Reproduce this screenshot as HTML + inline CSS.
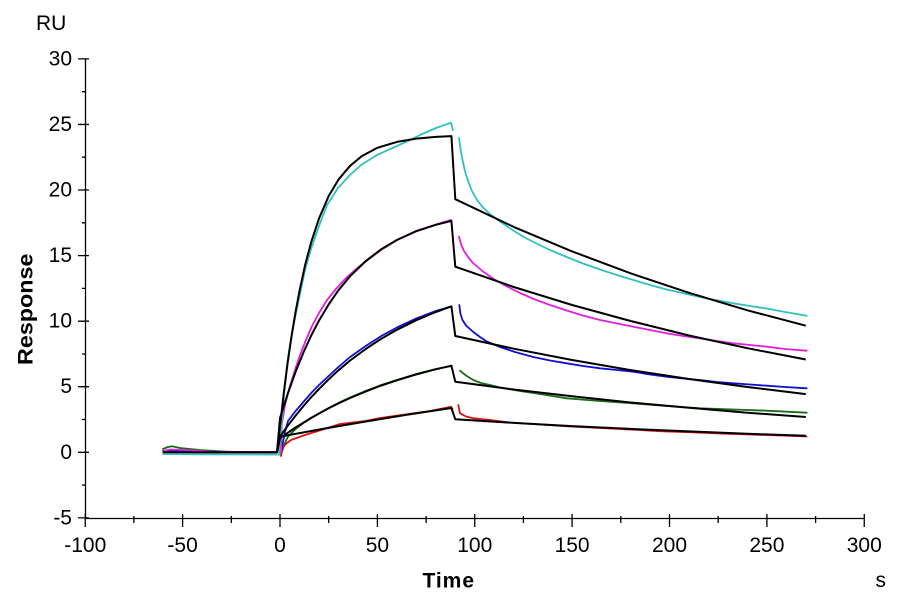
<!DOCTYPE html>
<html><head><meta charset="utf-8"><style>
html,body{margin:0;padding:0;background:#fff;}
svg{display:block;}
text{font-family:"Liberation Sans",Arial,sans-serif;fill:#000;}
</style></head><body>
<svg width="900" height="600" viewBox="0 0 900 600" xmlns="http://www.w3.org/2000/svg">
<rect width="900" height="600" fill="#fff"/>
<!-- axes -->
<g stroke="#000" stroke-width="1.3" fill="none">
<line x1="85.5" y1="58.9" x2="85.5" y2="518.5"/>
<line x1="85" y1="518.5" x2="864.5" y2="518.5"/>
<path d="M78 58.9H89M78 124.45H89M78 190H89M78 255.6H89M78 321.2H89M78 386.7H89M78 452.3H89M78 517.9H89"/>
<path d="M82 91.7H85.5M82 157.2H85.5M82 222.8H85.5M82 288.4H85.5M82 354H85.5M82 419.5H85.5M82 485.1H85.5"/>
<path d="M85.25 514V527M182.6 514V527M280 514V527M377.4 514V527M474.75 514V527M572.1 514V527M669.5 514V527M766.9 514V527M864.25 514V527"/>
<path d="M133.9 516V523M231.3 516V523M328.7 516V523M426.1 516V523M523.4 516V523M620.8 516V523M718.2 516V523M815.6 516V523"/>
</g>
<g font-size="21" text-anchor="end">
<text x="72" y="65.5">30</text>
<text x="72" y="131">25</text>
<text x="72" y="196.5">20</text>
<text x="72" y="262">15</text>
<text x="72" y="327.7">10</text>
<text x="72" y="393.2">5</text>
<text x="72" y="458.8">0</text>
<text x="72" y="524.4">-5</text>
</g>
<g font-size="21" text-anchor="middle">
<text x="85.25" y="552">-100</text>
<text x="182.6" y="552">-50</text>
<text x="280" y="552">0</text>
<text x="377.4" y="552">50</text>
<text x="474.75" y="552">100</text>
<text x="572.1" y="552">150</text>
<text x="669.5" y="552">200</text>
<text x="766.9" y="552">250</text>
<text x="864.25" y="552">300</text>
</g>
<text x="36" y="30" font-size="21">RU</text>
<text x="875.5" y="587" font-size="21">s</text>
<text x="422.5" y="587.3" font-size="21" font-weight="bold" textLength="51.5" lengthAdjust="spacing">Time</text>
<text transform="translate(32.5,365) rotate(-90)" font-size="21" font-weight="bold" textLength="111.5" lengthAdjust="spacingAndGlyphs">Response</text>

<g fill="none" stroke-width="1.8" stroke-linejoin="round" stroke-linecap="round">
<path stroke="#1a6b1a" d="M163 449 L168 447 L172 446.3 L180 448 L190 449 L200 450 L215 451 L230 452 L277 452.3 M281 454 L284 445 L287.8 437 L295.6 429 L303.4 423 L311.2 418 L319 413.5 L328.7 408 L338.4 403 L350.1 397.5 L365.7 391 L381.3 385 L396.9 380 L416.3 374 L435.8 369 L451.4 366 M460 370.7 L466 375.5 L473.3 380 L481 383 L490 385 L500 387.5 L520 391 L540 394 L566.7 398.3 L600 401 L633.3 403.3 L666.7 406 L700 408.3 L733.3 409.5 L766.7 410.7 L806.7 412.7"/>
<path stroke="#dd1111" d="M163 452 L200 452.3 L277 452.6 M281 456 L282 451 L284 446 L287 443 L291 440 L298 437.5 L305 435 L322.8 429.5 L340 424 L365.7 421 L380 418 L408.5 414 L430 411 L445 408 L451 406.7 L452.5 409 M458.3 405 L460 413.3 L466 416.5 L473.3 418.3 L490 420 L510 422.5 L540 424.5 L570 426.5 L600 428 L630 429.5 L660 431.2 L690 432.2 L720 433.5 L750 434.5 L780 435.5 L806.7 436.5"/>
<path stroke="#1010cc" d="M163 451 L200 451.5 L277 452.2 M281 452 L283 442 L285 432 L288 421 L295.6 411 L303.4 402 L311.2 393 L319 385 L328.7 376 L338.4 367 L350.1 357 L365.7 346 L381.3 336 L396.9 327.5 L416.3 318.5 L435.8 311 L451.4 306.5 M459.3 305 L460.5 314 L462.5 320 L466 325.5 L473.3 332 L480 337 L486.7 341.5 L500 347 L515 352 L533.3 357 L550 360.5 L566.7 363.3 L583 366 L600 368.3 L617 370 L633.3 371.7 L650 374.5 L666.7 376.7 L683 378.5 L700 380 L717 382 L733.3 383.3 L750 384.5 L766.7 385.7 L785 387 L806.7 388.3"/>
<path stroke="#e020e0" d="M163 451 L170 449.5 L185 450 L200 451 L215 452 L277 452 M281 452 L281.7 425 L285 405 L290 386 L295 370 L300 355 L306 340 L312 326 L319 313 L327 300 L336 289 L345 279 L355 270 L365 262 L381 250 L397 240 L416 231 L436 224.5 L451 220 M459 236.7 L461 244 L464 251 L468 257 L473 263 L483 271.5 L493 278.5 L505 285.5 L520 293 L535 299.5 L550 305 L566.7 310.5 L583 315.5 L600 320 L617 323.5 L633.3 326.7 L650 330 L666.7 333.3 L683 336 L700 338.3 L717 341 L733.3 343.3 L750 345 L766.7 346.7 L785 349 L806.7 350.7"/>
<path stroke="#30c0c0" d="M163 454 L200 454.3 L277 454.6 M279 455 L281 430 L284 395 L287 365 L291 338 L296 313 L300 294 L305 270 L311 249 L319 226 L327 205 L338 188 L350 175 L361 165 L377 155 L397 146 L410 140 L420 135 L436 128 L451 122.7 L453 130 M459 138 L460.5 149 L462.5 160 L465 171 L468 181 L472 191 L477 200 L483 207.5 L490 214 L500 221.5 L511 229 L522 236 L533.3 242 L550 250 L566.7 257 L583 263.5 L600 269.5 L617 275 L633.3 280 L650 285 L666.7 289.5 L680 292.5 L693.3 295.5 L710 299 L733.3 303.3 L750 306 L766.7 308.5 L785 312 L806.7 315.7"/>
</g>

<g fill="none" stroke="#000" stroke-width="2" stroke-linejoin="round">
<path d="M163 452.3 L277 452.3 L280 426.1 L283.9 392 L287.8 361.8 L291.7 335.2 L295.6 311.7 L299.5 291 L305.3 264.2 L311.2 242.2 L319 218.5 L328.7 196 L338.4 179.7 L350.1 165.8 L361.8 156.1 L377.4 147.8 L396.9 141.9 L416.3 138.6 L435.8 136.9 L451.4 136.1 L455.3 199.2 L513.7 226.9 L572.1 251.4 L630.6 273.3 L689 292.8 L747.4 310.3 L805.8 325.7"/>
<path d="M277 452.3 L280 418.2 L287.8 393.5 L295.6 371.8 L303.4 352.6 L311.2 335.6 L319 320.6 L328.7 304.4 L338.4 290.3 L350.1 276.2 L365.7 261.1 L381.3 249.2 L396.9 240 L416.3 231.2 L435.8 224.8 L451.4 220.9 L455.3 266.7 L513.7 287 L572.1 305 L630.6 321 L689 335.5 L747.4 348.2 L805.8 359.5"/>
<path d="M277 452.3 L280 436.6 L287.8 425.7 L295.6 415.6 L303.4 406.1 L311.2 397.2 L319 389 L328.7 379.3 L338.4 370.3 L350.1 360.5 L365.7 349 L381.3 338.7 L396.9 329.8 L416.3 320.2 L435.8 312 L451.4 306.3 L455.3 336 L513.7 348.7 L572.1 360 L630.6 370.1 L689 379 L747.4 387 L805.8 394.1"/>
<path d="M277 452.3 L280 438.3 L287.8 432.8 L295.6 427.5 L303.4 422.7 L311.2 417.9 L319 413.5 L328.7 408.2 L338.4 403.4 L350.1 398 L365.7 391.5 L381.3 385.5 L396.9 380.3 L416.3 374.4 L435.8 369.3 L451.4 365.7 L455.3 381.7 L513.7 389.5 L572.1 396.3 L630.6 402.5 L689 407.8 L747.4 412.7 L805.8 417"/>
<path d="M277 452.3 L280 436.7 L322.8 428.9 L365.7 421.5 L408.5 414.5 L451.4 408 L455.3 419.3 L513.7 422.9 L572.1 426.1 L630.6 428.9 L689 431.4 L747.4 433.8 L805.8 435.8"/>
</g>
</svg>
</body></html>
